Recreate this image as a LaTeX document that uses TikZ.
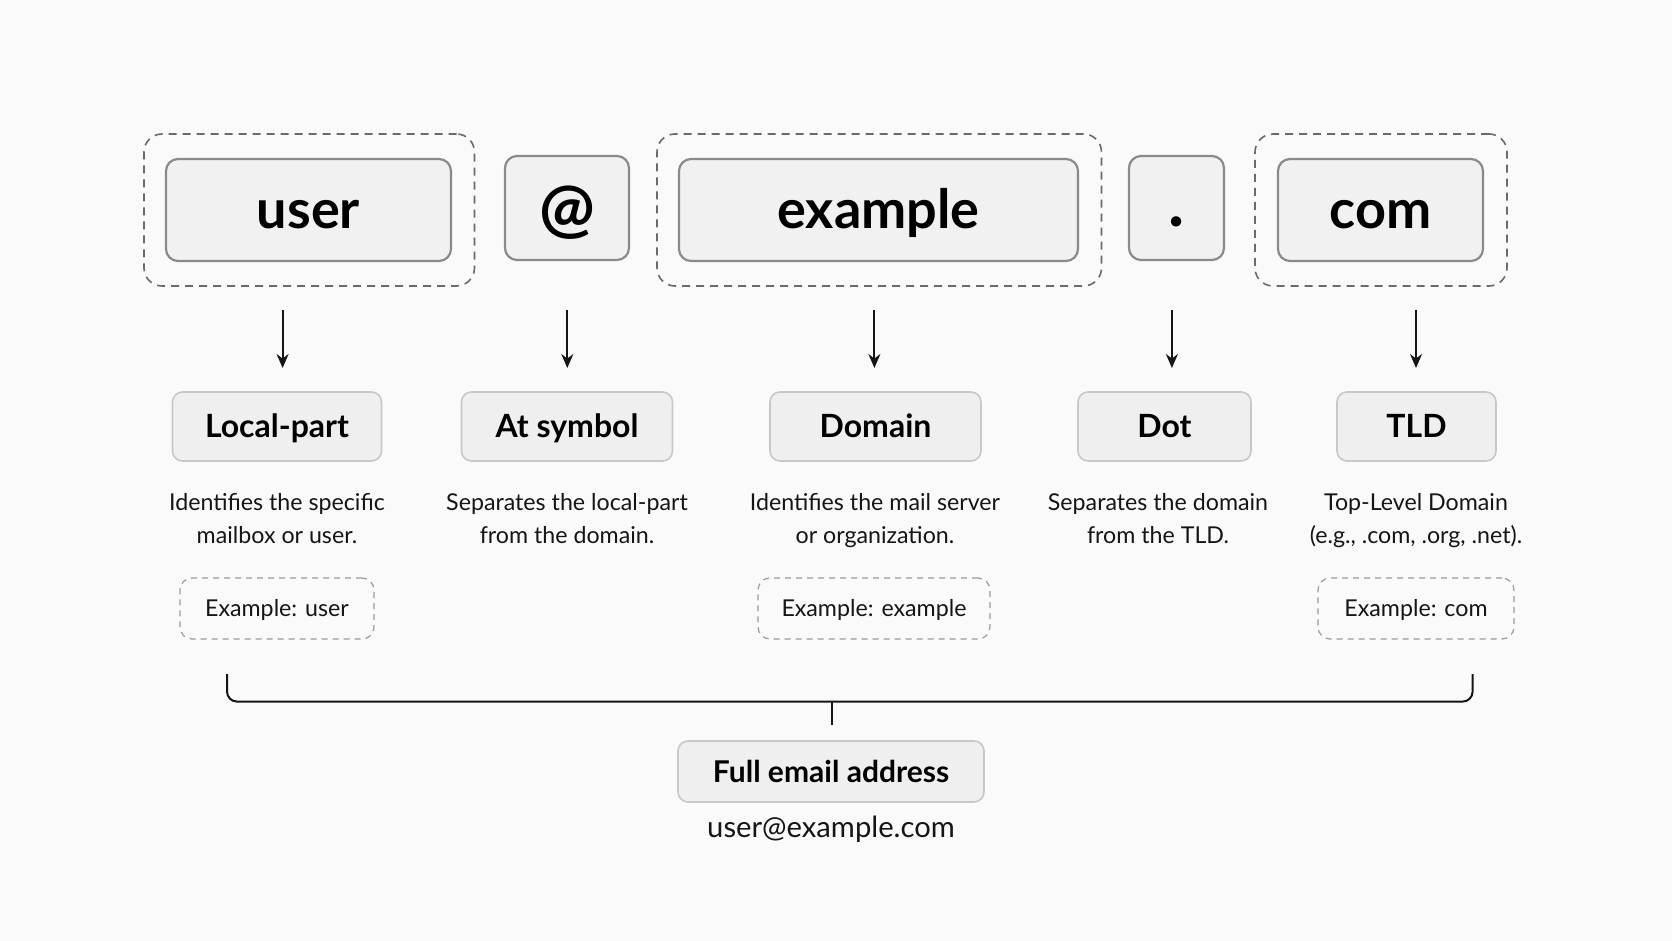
\documentclass[tikz,border=0pt]{standalone}
\usepackage{fontspec}
\setmainfont{Lato}
\usetikzlibrary{arrows.meta}
\definecolor{bg}{HTML}{FAFAFA}
\definecolor{boxfill}{HTML}{F1F1F1}
\definecolor{boxdraw}{HTML}{8A8A8A}
\definecolor{lblfill}{HTML}{EFEFEF}
\definecolor{lbldraw}{HTML}{C8C8C8}
\definecolor{dashdraw}{HTML}{6A6A6A}
\definecolor{exdraw}{HTML}{9A9A9A}
\definecolor{ink}{HTML}{151515}
\begin{document}
\begin{tikzpicture}[x=0.5pt,y=-0.5pt,
  part/.style={draw=boxdraw, fill=boxfill, line width=1.1pt, rounded corners=6pt,
    font=\fontsize{27}{30}\selectfont\bfseries, text=black, inner sep=0pt, minimum height=51pt,
    text height=18.5pt, text depth=0pt},
  grp/.style={draw=dashdraw, dashed, dash pattern=on 4pt off 3pt, line width=0.8pt, rounded corners=9pt,
    inner sep=0pt},
  lbl/.style={draw=lbldraw, fill=lblfill, line width=0.8pt, rounded corners=5pt,
    font=\fontsize{16}{19}\selectfont\bfseries, text=black, inner sep=0pt, minimum height=34.5pt,
    text height=11.4pt, text depth=0pt},
  desc/.style={align=center, font=\fontsize{11.6}{16.5}\selectfont, text=ink, inner sep=0pt,
    text height=24.9pt, text depth=0pt},
  exbox/.style={draw=exdraw, dashed, dash pattern=on 3pt off 2.5pt, line width=0.6pt, rounded corners=6pt,
    font=\fontsize{11.6}{14}\selectfont, text=ink, inner sep=0pt, minimum height=30.5pt,
    text height=8.4pt, text depth=0pt},
  arr/.style={draw=ink, line width=1pt, -{Stealth[length=7pt,width=6pt]}},
  brk/.style={draw=ink, line width=1pt, rounded corners=5pt}
]
\fill[bg] (0,0) rectangle (1672,941);
\useasboundingbox (0,0) rectangle (1672,941);

% dashed groups
\node[grp, minimum width=165.25pt, minimum height=76pt] (guser) at (309.25,210) {};
\node[grp, minimum width=222.25pt, minimum height=76pt] (gexample) at (879.25,210) {};
\node[grp, minimum width=126pt, minimum height=76pt] (gcom) at (1381,210) {};

% parts
\node[part, minimum width=142.5pt] (user) at (308.5,210) {user};
\node[part, minimum width=62pt, minimum height=52pt, font=\fontsize{33}{36}\selectfont\bfseries, text height=23.5pt] (at) at (567,208) {@};
\node[part, minimum width=47.5pt, minimum height=52pt, font=\fontsize{34}{36}\selectfont\bfseries, text height=19pt] (dot) at (1176.5,208) {.};
\node[part, minimum width=199.5pt] (example) at (878.5,210) {example};
\node[part, minimum width=102.5pt] (com) at (1380.5,210) {com};

% arrow coordinates
\foreach \n/\x in {1/282.6,2/567.3,3/874.4,4/1171.9,5/1416}{
  \coordinate (s\n) at (\x,310);
  \coordinate (e\n) at (\x,368);
  \draw[arr] (s\n) -- (e\n);
}

% labels
\node[lbl, minimum width=104.5pt] (llocal) at (277,426.5) {Local-part};
\node[lbl, minimum width=105.5pt] (lat) at (567,426.5) {At symbol};
\node[lbl, minimum width=105.5pt] (ldomain) at (875.5,426.5) {Domain};
\node[lbl, minimum width=86.5pt] (ldot) at (1164.5,426.5) {Dot};
\node[lbl, minimum width=79.5pt] (ltld) at (1416.5,426.5) {TLD};

% descriptions
\node[desc] (dlocal) at (277,519) {Identifies the specific\\mailbox or user.};
\node[desc] (dat) at (567,519) {Separates the local-part\\from the domain.};
\node[desc] (ddomain) at (875,519) {Identifies the mail server\\or organization.};
\node[desc] (ddot) at (1158,519) {Separates the domain\\from the TLD.};
\node[desc] (dtld) at (1416,519) {Top-Level Domain\\(e.g., .com, .org, .net).};

% examples
\node[exbox, minimum width=97pt] (xuser) at (277,608.5) {Example: user};
\node[exbox, minimum width=116pt] (xexample) at (874,608.5) {Example: example};
\node[exbox, minimum width=98pt] (xcom) at (1416,608.5) {Example: com};

% bracket
\coordinate (bl) at (227,674);
\coordinate (br) at (1472.6,674);
\coordinate (bm) at (831.7,701.6);
\coordinate (bs) at (831.7,725);
\draw[brk] (bl) -- (227,701.6) -- (1472.6,701.6) -- (br);
\draw[draw=ink, line width=1pt] (bm) -- (bs);

% full address
\node[lbl, font=\fontsize{15}{18}\selectfont\bfseries, minimum width=153pt, minimum height=30.5pt, text height=10.7pt] (full) at (831,771.5) {Full email address};
\node[inner sep=0pt, font=\fontsize{14.6}{17}\selectfont, text=ink, text height=7.4pt, text depth=0pt] (addr) at (831,829.6) {user@example.com};
\end{tikzpicture}
\end{document}
